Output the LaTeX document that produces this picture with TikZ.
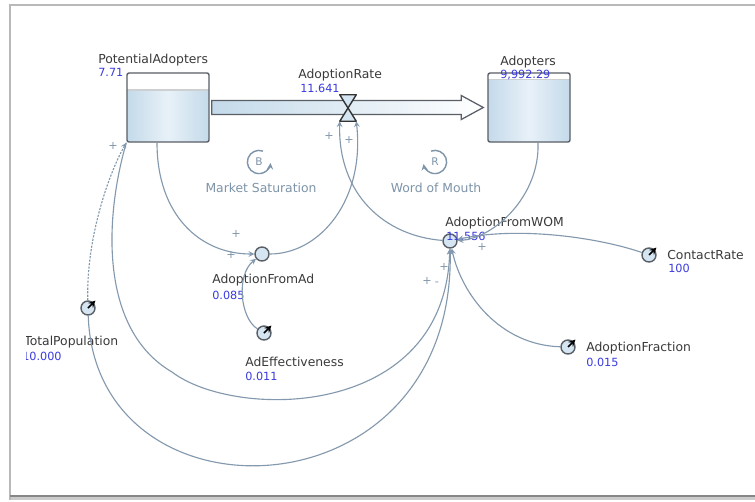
\documentclass[tikz,border=0pt]{standalone}
\usepackage{fontspec}
\setmainfont{DejaVu Sans}
\usepackage{tikz}
\usetikzlibrary{shapes,arrows,positioning,calc}

\definecolor{linkc}{HTML}{8499AD}
\definecolor{loopc}{HTML}{7D94A9}
\definecolor{valc}{HTML}{3A3AE0}
\definecolor{txtc}{HTML}{3A3A3A}
\definecolor{stockline}{HTML}{5A5F66}
\definecolor{stockfill}{HTML}{C4DAEA}
\definecolor{stocklight}{HTML}{E8F1F8}
\definecolor{auxfill}{HTML}{D5E5F2}
\definecolor{framec}{HTML}{A8A8A8}

\begin{document}
\begin{tikzpicture}[
    x=0.025cm, y=-0.025cm,
    stock/.style={rectangle, draw=stockline, line width=1pt, rounded corners=1.5pt,
        minimum width=2.05cm, minimum height=1.725cm, inner sep=0pt,
        left color=stockfill, right color=stockfill, middle color=stocklight,
        path picture={\fill[white] (path picture bounding box.north west) rectangle ([yshift=-#1]path picture bounding box.north east);
            \draw[stockline!30] ([yshift=-#1]path picture bounding box.north west) -- ([yshift=-#1]path picture bounding box.north east);}},
    aux/.style={circle, draw=stockline, line width=1pt, fill=auxfill, minimum size=0.35cm, inner sep=0pt},
    lbl/.style={anchor=west, inner sep=0pt, text=txtc, font=\fontsize{8.8}{10}\selectfont},
    num/.style={anchor=west, inner sep=0pt, text=valc, font=\fontsize{8}{9}\selectfont},
    link/.style={->, >=stealth, draw=linkc, line width=0.8pt},
    polarity/.style={inner sep=0pt, text=linkc, font=\fontsize{8}{9}\selectfont},
    constmark/.style={->, >=stealth, black, line width=1.2pt},
    loopname/.style={inner sep=0pt, text=loopc, font=\fontsize{8.8}{10}\selectfont},
    looptag/.style={inner sep=0pt, text=loopc, font=\fontsize{7.5}{8}\selectfont},
    loopmark/.style={->, >=stealth, draw=loopc, line width=1pt},
    pipe/.style={draw=stockline, line width=0.9pt, left color=stockfill, right color=white},
    valve/.style={draw=black!80, line width=1pt, fill=auxfill, line join=round}
]
\useasboundingbox (0,0) rectangle (755,501);
\fill[white] (0,0) rectangle (755,501);

% Window frame
\draw[framec!60, line width=2.5pt] (11,498) -- (770,498);
\draw[framec!80, line width=1.2pt] (10,500) -- (10,5) -- (770,5);
\draw[framec!80!black, line width=1pt] (10,496) -- (770,496);

% Stocks
\node[stock=0.42cm] (pa) at (168,107.5) {};
\node[stock=0.17cm] (ad) at (529,107.5) {};
\node[lbl] (paname) at (98,60) {PotentialAdopters};
\node[num] (paval) at (98,72) {7.71};
\node[lbl] (adname) at (500,62) {Adopters};
\node[num] (adval) at (500,75) {9,992.29};

% Flow
\node[minimum width=0.4cm, minimum height=0.65cm, inner sep=0pt] (rate) at (348,108) {};
\draw[pipe] ($(pa.east)+(2,-7)$) -- ($(ad.west)+(-26,-7)$) -- ($(ad.west)+(-26,-12)$)
    -- ($(ad.west)+(-4,0)$) -- ($(ad.west)+(-26,12)$) -- ($(ad.west)+(-26,7)$)
    -- ($(pa.east)+(2,7)$) -- cycle;
\draw[valve] (rate.north west) -- (rate.north east) -- (rate.south west) -- (rate.south east) -- cycle;
\node[lbl] (ratename) at (298,75) {AdoptionRate};
\node[num] (rateval) at (300,88) {11.641};

% Loops
\node[looptag] (b) at (259,162) {B};
\draw[loopmark] ([shift={(70:0.29cm)}]b.center) arc[start angle=70, end angle=355, radius=0.29cm];
\node[loopname] (bname) at (261,188) {Market Saturation};
\node[looptag] (r) at (435,162) {R};
\draw[loopmark] ([shift={(110:0.29cm)}]r.center) arc[start angle=110, end angle=-170, radius=0.29cm];
\node[loopname] (rname) at (436,188) {Word of Mouth};

% Auxiliaries and constants
\node[aux] (afa) at (262,254) {};
\node[aux] (ae) at (264,333) {};
\node[aux] (wom) at (450,241) {};
\node[aux] (cr) at (649,255) {};
\node[aux] (af) at (568,347) {};
\node[aux] (tp) at (88,308) {};
\draw[constmark] (ae.center) -- ([shift={(2,-2)}]ae.north east);
\draw[constmark] (cr.center) -- ([shift={(2,-2)}]cr.north east);
\draw[constmark] (af.center) -- ([shift={(2,-2)}]af.north east);
\draw[constmark] (tp.center) -- ([shift={(2,-2)}]tp.north east);

\node[lbl] at (212,280) {AdoptionFromAd};
\node[num] at (212,295) {0.085};
\node[lbl] at (245,362) {AdEffectiveness};
\node[num] at (245,376) {0.011};
\node[lbl] at (445,223) {AdoptionFromWOM};
\node[num] at (446,236) {11.556};
\node[lbl] at (667,255) {ContactRate};
\node[num] at (668,268) {100};
\node[lbl] at (586,348) {AdoptionFraction};
\node[num] at (586,362) {0.015};
\begin{scope}
  \clip (26,325) rectangle (200,370);
  \node[lbl] at (24,342) {TotalPopulation};
  \node[num] at (22,356) {10.000};
\end{scope}

% Links
\draw[link] ($(pa.south)+(-11,0)$) .. controls (157,215) and (200,254) .. (afa);
\draw[link] (ae) .. controls (240,318) and (236,275) .. (afa);
\draw[link] (afa) .. controls (320,254) and (365,200) .. (rate.south east);
\draw[link] (wom) .. controls (385,236) and (338,195) .. (rate.south west);
\draw[link] ($(ad.south)+(9,0)$) .. controls (540,195) and (495,238) .. (wom);
\draw[link] (cr) .. controls (600,238) and (520,226) .. (wom);
\draw[link] (af) .. controls (500,345) and (462,295) .. (wom);
\draw[link] (tp) .. controls (95,530) and (455,520) .. (wom);
\draw[link] (pa.south west) .. controls (104,220) and (100,330) .. (172,372)
    .. controls (235,420) and (445,420) .. (wom);
\draw[link, dashed, dash pattern=on 1.5pt off 1pt] (tp) .. controls (86,240) and (108,175) .. (pa.south west);

% Polarities
\node[polarity] at (113,146) {+};
\node[polarity] at (236,234) {+};
\node[polarity] at (231,255) {+};
\node[polarity] at (329,136) {+};
\node[polarity] at (349,140) {+};
\node[polarity] at (482,247) {+};
\node[polarity] at (444,267) {+};
\node[polarity] at (427,281) {+};
\node[polarity] at (437,284) {-};

\end{tikzpicture}
\end{document}
